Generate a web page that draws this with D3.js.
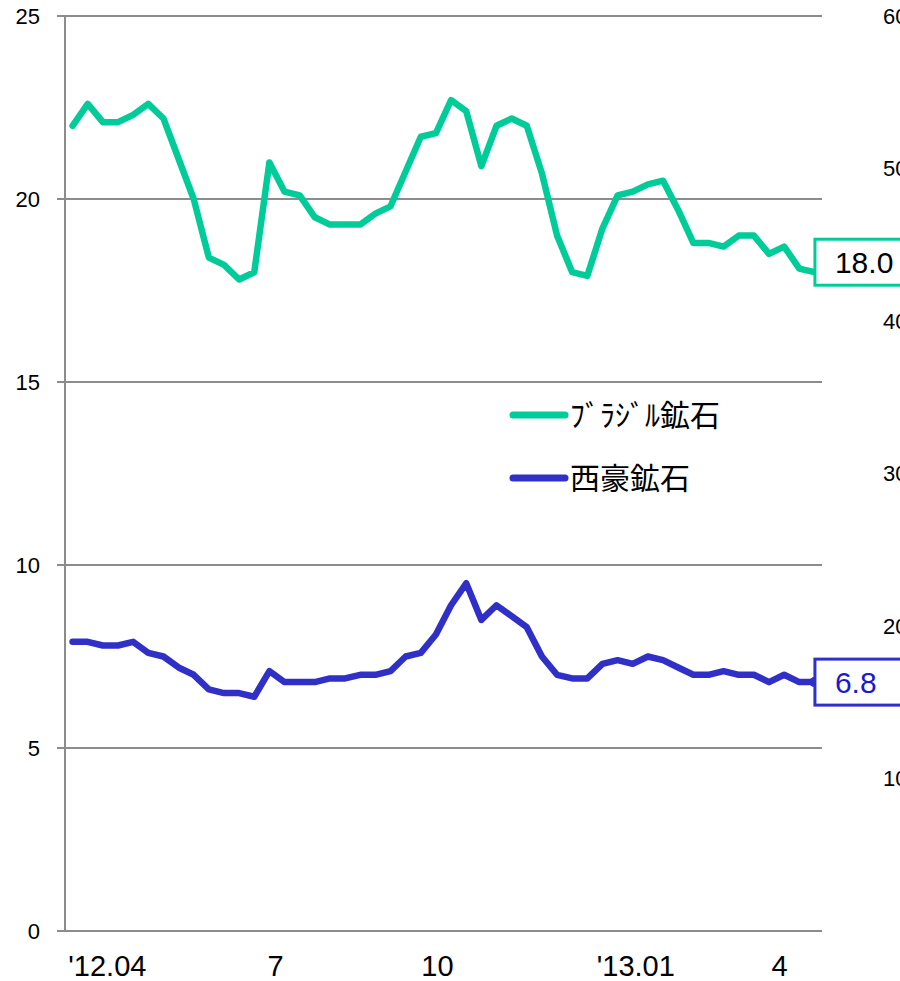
<!DOCTYPE html>
<html>
<head>
<meta charset="utf-8">
<script src="https://cdn.jsdelivr.net/npm/d3@7"></script>
<style>
  body { margin: 0; background: #fff; overflow: hidden; }
  svg { display: block; }
</style>
</head>
<body>
<div class="chart"></div>
<script>
// values (50 points, Apr 2012 - Apr 2013)
const brazil = [22.0, 22.6, 22.1, 22.1, 22.3, 22.6, 22.2, 21.1, 20.0, 18.4,
                18.2, 17.8, 18.0, 21.0, 20.2, 20.1, 19.5, 19.3, 19.3, 19.3,
                19.6, 19.8, 20.75, 21.7, 21.8, 22.7, 22.4, 20.9, 22.0, 22.2,
                22.0, 20.7, 19.0, 18.0, 17.9, 19.2, 20.1, 20.2, 20.4, 20.5,
                19.7, 18.8, 18.8, 18.7, 19.0, 19.0, 18.5, 18.7, 18.1, 18.0];
const westAus = [7.9, 7.9, 7.8, 7.8, 7.9, 7.6, 7.5, 7.2, 7.0, 6.6,
                 6.5, 6.5, 6.4, 7.1, 6.8, 6.8, 6.8, 6.9, 6.9, 7.0,
                 7.0, 7.1, 7.5, 7.6, 8.1, 8.9, 9.5, 8.5, 8.9, 8.6,
                 8.3, 7.5, 7.0, 6.9, 6.9, 7.3, 7.4, 7.3, 7.5, 7.4,
                 7.2, 7.0, 7.0, 7.1, 7.0, 7.0, 6.8, 7.0, 6.8, 6.8];
const seriesNames = ["ﾌﾞﾗｼﾞﾙ鉱石", "西豪鉱石"];
const xTickLabels = ["'12.04", "7", "10", "'13.01", "4"];
const xTickPos = [2.3, 13.4, 24.1, 37.2, 46.7];
const leftTicks = [0, 5, 10, 15, 20, 25];
const rightTicks = [10, 20, 30, 40, 50, 60];

const width = 900, height = 981;
const plot = { left: 65, right: 822, top: 16, bottom: 931 };
const green = "#00cc99", blue = "#3030c8", grid = "#8c8c8c";

const svg = d3.select(".chart").append("svg")
    .attr("width", width)
    .attr("height", height);

const x = d3.scaleLinear().domain([-0.5, brazil.length - 0.5]).range([plot.left, plot.right]);
const y = d3.scaleLinear().domain([0, 25]).range([plot.bottom, plot.top]);
const y2 = d3.scaleLinear().domain([0, 60]).range([plot.bottom, plot.top]);

// gridlines + left labels
svg.append("g").selectAll("line")
    .data(leftTicks)
    .join("line")
    .attr("x1", plot.left - 8).attr("x2", plot.right)
    .attr("y1", d => y(d)).attr("y2", d => y(d))
    .attr("stroke", grid).attr("stroke-width", 2);

svg.append("line")
    .attr("x1", plot.left).attr("x2", plot.left)
    .attr("y1", plot.top).attr("y2", plot.bottom)
    .attr("stroke", grid).attr("stroke-width", 2);

svg.append("g").selectAll("text")
    .data(leftTicks)
    .join("text")
    .attr("x", 40)
    .attr("y", d => y(d))
    .attr("dy", "0.36em")
    .attr("text-anchor", "end")
    .attr("font-family", "Liberation Sans, Arial, sans-serif")
    .attr("font-size", 22)
    .text(d => d);

// right axis labels (cut off by the window edge)
svg.append("g").selectAll("text")
    .data(rightTicks)
    .join("text")
    .attr("x", 883)
    .attr("y", d => y2(d))
    .attr("dy", "0.36em")
    .attr("font-family", "Liberation Sans, Arial, sans-serif")
    .attr("font-size", 22)
    .text(d => d);

// x labels
svg.append("g").selectAll("text")
    .data(xTickLabels)
    .join("text")
    .attr("x", (d, i) => x(xTickPos[i]))
    .attr("y", 976)
    .attr("text-anchor", "middle")
    .attr("font-family", "Liberation Sans Narrow, Arial Narrow, sans-serif")
    .attr("font-size", 29)
    .text(d => d);

// lines
const line = d3.line()
    .x((d, i) => x(i))
    .y(d => y(d));

[[brazil, green], [westAus, blue]].forEach(([data, color]) => {
    svg.append("path")
        .datum(data)
        .attr("d", line)
        .attr("fill", "none")
        .attr("stroke", color)
        .attr("stroke-width", 6.5)
        .attr("stroke-linejoin", "round")
        .attr("stroke-linecap", "round");
});

// end marker on the blue line
const last = westAus.length - 1;
svg.append("circle")
    .attr("cx", x(last)).attr("cy", y(westAus[last]))
    .attr("r", 5).attr("fill", blue);

// value boxes
function valueBox(value, color, textColor, shift) {
    const cy = y(value) + shift;
    const bx = x(brazil.length - 1) + 0.5;
    svg.append("rect")
        .attr("x", bx).attr("y", cy - 23)
        .attr("width", 120).attr("height", 46)
        .attr("fill", "#fff")
        .attr("stroke", color).attr("stroke-width", 3);
    svg.append("text")
        .attr("x", bx + 20).attr("y", cy)
        .attr("dy", "0.36em")
        .attr("fill", textColor)
        .attr("font-family", "Liberation Sans, Arial, sans-serif")
        .attr("font-size", 30)
        .text(value.toFixed(1));
}
valueBox(brazil[last], green, "#000", -10);
valueBox(westAus[last], blue, "#1a1acc", 0);

// legend
const legend = svg.append("g").attr("transform", "translate(510, 415)");
[green, blue].forEach((color, i) => {
    const g = legend.append("g").attr("transform", `translate(0, ${i * 63})`);
    g.append("line")
        .attr("x1", 3).attr("x2", 55)
        .attr("stroke", color).attr("stroke-width", 7)
        .attr("stroke-linecap", "round");
    g.append("text")
        .attr("x", 60)
        .attr("dy", "0.36em")
        .attr("font-family", "Noto Sans CJK JP, sans-serif")
        .attr("font-size", 30)
        .text(seriesNames[i]);
});
</script>
</body>
</html>
